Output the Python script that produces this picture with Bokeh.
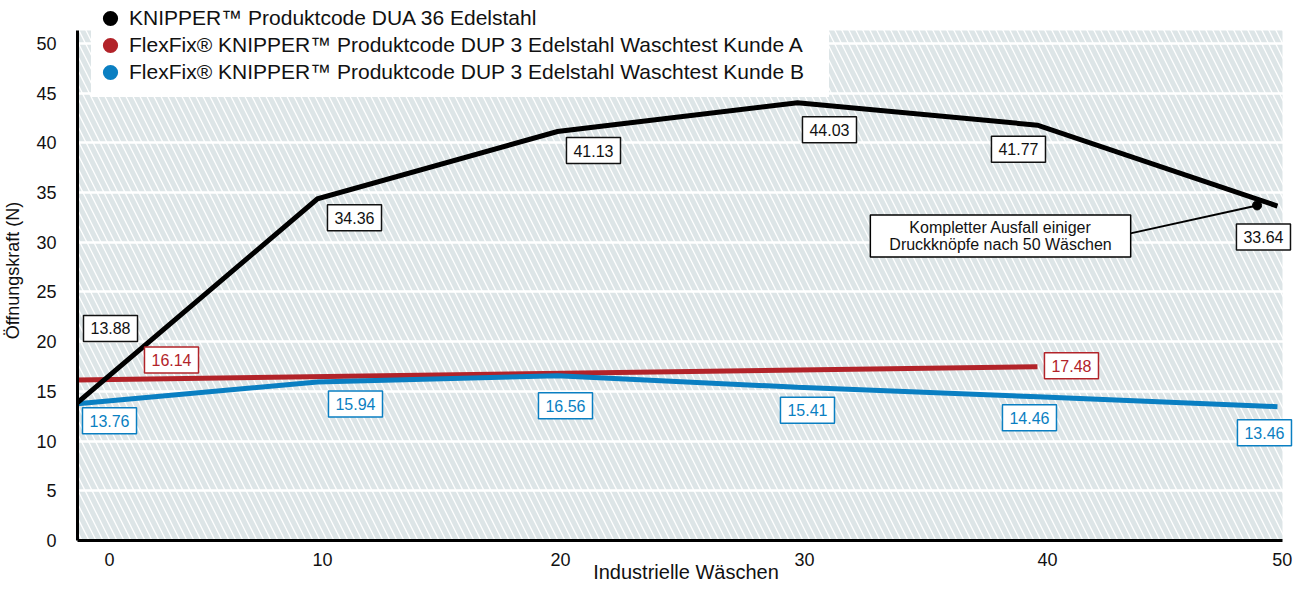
from bokeh.plotting import figure
from bokeh.models import (Label, Legend, LegendItem, FixedTicker, BoxAnnotation, Range1d)
from bokeh.embed import file_html
from bokeh.resources import INLINE

# ---------------- data ----------------
waeschen = [0, 10, 20, 30, 40, 50]
dua36 = [13.88, 34.36, 41.13, 44.03, 41.77, 33.64]
kunde_a_waeschen = [0, 40]
kunde_a = [16.14, 17.48]
kunde_b = [13.76, 15.94, 16.56, 15.41, 14.46, 13.46]
series_names = [
    "KNIPPER\u2122 Produktcode DUA 36 Edelstahl",
    "FlexFix\u00ae KNIPPER\u2122 Produktcode DUP 3 Edelstahl Waschtest Kunde A",
    "FlexFix\u00ae KNIPPER\u2122 Produktcode DUP 3 Edelstahl Waschtest Kunde B",
]
x_tick_labels = ["0", "10", "20", "30", "40", "50"]
y_ticks = [0, 5, 10, 15, 20, 25, 30, 35, 40, 45, 50]
annotation_text = "Kompletter Ausfall einiger\nDruckknöpfe nach 50 Wäschen"
x_title = "Industrielle Wäschen"
y_title = "Öffnungskraft (N)"

# ---------------- layout / style ----------------
x_tick_pos = [1.33, 10.21, 20.13, 30.29, 40.42, 50.2]
X_PLOT_END = 50.21      # end of hatched plot area
black_off = [(33, -74), (37, 19), (36, 19), (32, 27), (-19, 24), (-14, 31)]
red_off = [(94, -20), (34, -1)]
blue_off = [(32, 17), (38, 22), (8, 30), (10, 23), (-8, 21), (-13, 26)]
series_colors = ["#000000", "#b22329", "#0a7fc2"]
C_BLACK, C_RED, C_BLUE = series_colors
FONT = "Liberation Sans"

p = figure(width=1295, height=586, output_backend="svg", toolbar_location=None,
           x_range=Range1d(0, 50.71), y_range=Range1d(0, 54.31),
           min_border_left=77, min_border_right=1, min_border_top=0,
           min_border_bottom=46)
p.outline_line_color = None
p.background_fill_color = "white"
p.border_fill_color = "white"

# hatched background
p.add_layout(BoxAnnotation(left=0, right=X_PLOT_END, bottom=0, top=51.3,
                           fill_color="white", fill_alpha=1.0,
                           hatch_pattern="\\", hatch_color="#dde5e7",
                           hatch_scale=14, hatch_weight=5,
                           line_color=None, level="image"))

# grid
p.xgrid.visible = False
p.ygrid.ticker = FixedTicker(ticks=y_ticks)
p.ygrid.grid_line_color = "white"
p.ygrid.grid_line_width = 2.5
p.ygrid.bounds = (0, X_PLOT_END)

# axes
p.xaxis.ticker = FixedTicker(ticks=x_tick_pos)
p.xaxis.major_label_overrides = {t: l for t, l in zip(x_tick_pos, x_tick_labels)}
p.xaxis.bounds = (0, X_PLOT_END)
p.yaxis.ticker = FixedTicker(ticks=y_ticks)
p.yaxis.bounds = (0, 51.3)
for ax in (p.xaxis[0], p.yaxis[0]):
    ax.axis_line_width = 3
    ax.axis_line_color = "black"
    ax.major_tick_line_color = None
    ax.minor_tick_line_color = None
    ax.major_label_text_font = FONT
    ax.major_label_text_font_size = "18px"
    ax.major_label_text_color = "#111111"
    ax.axis_label_text_font = FONT
    ax.axis_label_text_font_style = "normal"
    ax.axis_label_text_color = "#111111"
p.xaxis.axis_label = x_title
p.yaxis.axis_label = y_title
p.xaxis.axis_label_text_font_size = "20px"
p.yaxis.axis_label_text_font_size = "18px"
p.xaxis.major_label_standoff = 6
p.xaxis.axis_label_standoff = -8
p.yaxis.major_label_standoff = 15
p.yaxis.axis_label_standoff = 10

# lines
p.line(kunde_a_waeschen, kunde_a, line_color=C_RED, line_width=5)
p.line(waeschen, kunde_b, line_color=C_BLUE, line_width=5)
p.line(waeschen, dua36, line_color=C_BLACK, line_width=5, line_join="miter")

# value labels
def add_labels(xs, ys, offs, color):
    for xv, yv, (dx, dy) in zip(xs, ys, offs):
        p.add_layout(Label(x=xv, y=yv, x_offset=dx, y_offset=-dy,
                           text=f"{yv:.2f}", text_align="center",
                           text_baseline="middle", text_font=FONT,
                           text_font_size="16px", text_color=color,
                           background_fill_color="white", background_fill_alpha=1,
                           border_line_color=color, border_line_width=1.5,
                           padding=(7, 7)))

add_labels(waeschen, dua36, black_off, "#111111")
add_labels(kunde_a_waeschen, kunde_a, red_off, C_RED)
add_labels(waeschen, kunde_b, blue_off, C_BLUE)

# annotation
anchor_x, anchor_y = 49.15, 33.7
p.segment(x0=[43.875], y0=[30.89], x1=[anchor_x], y1=[anchor_y],
          line_color="black", line_width=2)
p.scatter([anchor_x], [anchor_y], size=9, color="black")
p.add_layout(Label(x=38.46, y=30.63, text=annotation_text, text_align="center",
                   text_baseline="middle", text_font=FONT, text_font_size="16px",
                   text_color="#111111", text_line_height=1.0,
                   background_fill_color="white", background_fill_alpha=1,
                   border_line_color="black", border_line_width=1.5,
                   padding=(19, 4)))

# legend (circle markers; size-0 scatter renderers only feed the legend)
marker_renderers = [
    p.scatter(waeschen, dua36, size=0, fill_color=C_BLACK, line_color=None),
    p.scatter(kunde_a_waeschen, kunde_a, size=0, fill_color=C_RED, line_color=None),
    p.scatter(waeschen, kunde_b, size=0, fill_color=C_BLUE, line_color=None),
]
# (series index, location, row height) - bottom row first so upper rows sit on top
specs = [(2, (14, 443), 50), (1, (14, 476), 38), (0, (14, 503), 38)]
for idx, loc, gh in specs:
    lg = Legend(items=[LegendItem(label=series_names[idx], renderers=[marker_renderers[idx]])],
                location=loc, orientation="vertical",
                background_fill_color="white", background_fill_alpha=1,
                border_line_color=None, label_text_font=FONT,
                label_text_font_size="21px", label_text_color="#111111",
                glyph_width=38, glyph_height=gh, label_height=gh, label_width=700,
                spacing=0, padding=0, margin=0, label_standoff=0)
    p.add_layout(lg)

open("out.html", "w").write(file_html(p, INLINE))
